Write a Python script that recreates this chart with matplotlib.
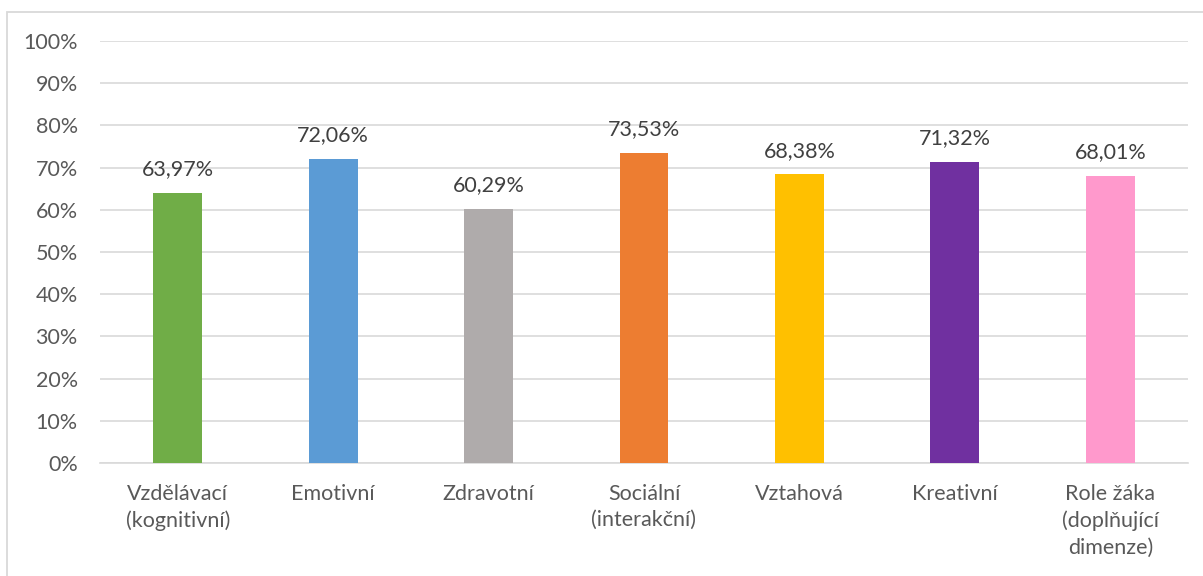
import matplotlib.pyplot as plt
from matplotlib.patches import Rectangle
from matplotlib.ticker import FuncFormatter

plt.rcParams['font.family'] = ['Lato', 'DejaVu Sans']

categories = ['Vzdělávací\n(kognitivní)', 'Emotivní', 'Zdravotní', 'Sociální\n(interakční)',
              'Vztahová', 'Kreativní', 'Role žáka\n(doplňující\ndimenze)']
values = [63.97, 72.06, 60.29, 73.53, 68.38, 71.32, 68.01]
labels = ['63,97%', '72,06%', '60,29%', '73,53%', '68,38%', '71,32%', '68,01%']
colors = ['#70ad47', '#5b9bd5', '#afabab', '#ed7d31', '#ffc000', '#7030a0', '#ff99cc']

W, H = 1203, 576
fig = plt.figure(figsize=(W / 100, H / 100), dpi=100)
ax = fig.add_axes([100 / W, 1 - 463 / H, 1088 / W, 422 / H])

# outer chart frame (only top and left edges visible in the crop)
fig.patches.append(Rectangle((7 / W, -0.1), 1.2, 1 - 12 / H + 0.1, transform=fig.transFigure,
                             fill=False, edgecolor='#d9d9d9', linewidth=1.3))

x = range(len(values))
ax.bar(x, values, width=0.315, color=colors, zorder=3)
for xi, v, lab in zip(x, values, labels):
    ax.text(xi, v + 3.2, lab, ha='center', va='bottom', fontsize=15.5, color='#404040')

ax.set_xlim(-0.5, len(values) - 0.5)
ax.set_ylim(0, 100)
ax.set_yticks(range(0, 101, 10))
ax.yaxis.set_major_formatter(FuncFormatter(lambda v, p: f'{int(v)}%'))
ax.set_xticks(list(x))
ax.set_xticklabels(categories, fontsize=15.5, color='#595959', linespacing=1.4)
ax.tick_params(axis='y', labelsize=15.5, labelcolor='#595959', length=0, pad=16)
ax.tick_params(axis='x', length=0, pad=15)
ax.grid(axis='y', color='#d9d9d9', linewidth=1.2, zorder=0)
for s in ['top', 'right', 'left']:
    ax.spines[s].set_visible(False)
ax.spines['bottom'].set_color('#d9d9d9')
ax.spines['bottom'].set_linewidth(1.2)

fig.savefig('out.png', dpi=100)
